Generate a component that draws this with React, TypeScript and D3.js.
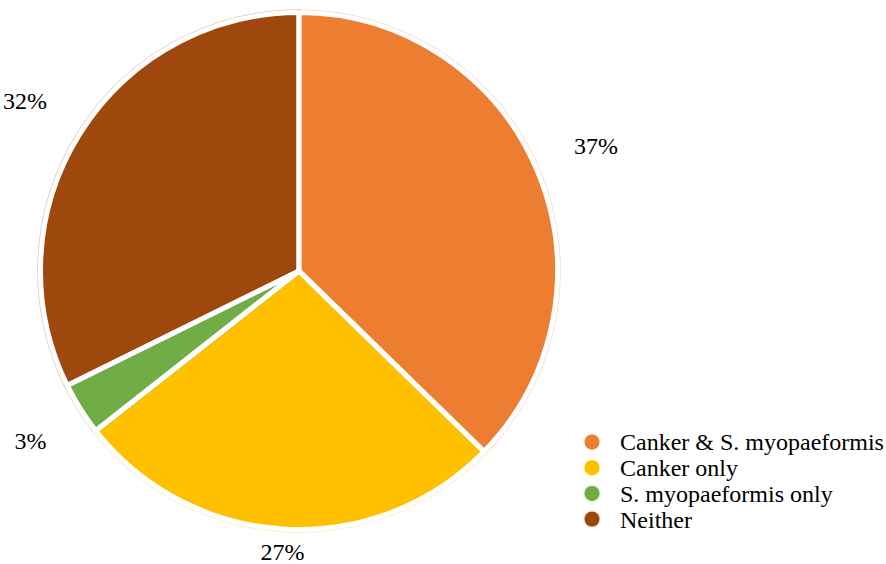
import React from "react";
import * as d3 from "d3";

const categories = ["Canker & S. myopaeformis", "Canker only", "S. myopaeformis only", "Neither"];
const values = [37.3, 27.1, 3.3, 32.3];
const labels = ["37%", "27%", "3%", "32%"];
const colors = ["#ED7D31", "#FFC000", "#70AD47", "#9E480E"];

const W = 886;
const H = 564;
const CX = 299;
const CY = 271;
const R = 258.5;
const FONT = "Liberation Serif";

export default function App() {
  const pie = d3.pie<number>().sort(null).value((d) => d)(values);
  const arc = d3.arc<d3.PieArcDatum<number>>().innerRadius(0).outerRadius(R);

  const labelPos = pie.map((p, i) => {
    const a = (p.startAngle + p.endAngle) / 2;
    const s = Math.sin(a);
    const c = -Math.cos(a);
    const hw = labels[i].length === 2 ? 16 : 22;
    const hh = 12;
    const d = R + 39 + hw * Math.abs(s) + hh * Math.abs(c);
    const x = CX + s * d;
    let y = CY + c * d;
    y = Math.max(hh, Math.min(H - 12, y));
    return { x, y };
  });

  return (
    <svg width={W} height={H} style={{ position: "absolute", left: 0, top: 0, background: "#fff" }}>
      <g transform={`translate(${CX},${CY})`}>
        {pie.map((p, i) => (
          <path key={"f" + i} d={arc(p) || ""} fill={colors[i]} stroke={colors[i]} strokeOpacity={0.3} strokeWidth={6.5} strokeLinejoin="round" />
        ))}
        {pie.map((p, i) => (
          <path key={"w" + i} d={arc(p) || ""} fill="none" stroke="#fff" strokeWidth={5} strokeLinejoin="round" />
        ))}
      </g>
      {labelPos.map((p, i) => (
        <text key={"l" + i} x={p.x} y={p.y} dy="0.35em" textAnchor="middle" fontFamily={FONT} fontSize={24} fill="#000">
          {labels[i]}
        </text>
      ))}
      <g transform="translate(592,442)">
        {categories.map((c, i) => (
          <g key={"lg" + i} transform={`translate(0,${i * 25.7})`}>
            <circle r={7.5} fill={colors[i]} stroke={colors[i]} strokeOpacity={0.25} strokeWidth={3} />
            <circle r={8.5} fill="none" stroke="#fff" strokeWidth={1} />
            <text x={28} y={0} dy="0.35em" fontFamily={FONT} fontSize={24} fill="#000">
              {c}
            </text>
          </g>
        ))}
      </g>
    </svg>
  );
}
